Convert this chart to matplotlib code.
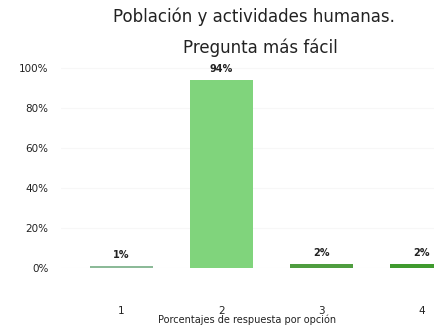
import matplotlib.pyplot as plt
import numpy as np

opciones = ["1", "2", "3", "4"]
porcentajes = [1, 94, 2, 2]
colores = ["#8cba98", "#80d47c", "#4f9d3f", "#3f9a2e"]
yticks = [0, 20, 40, 60, 80, 100]

fig = plt.figure(figsize=(4.34, 3.26), dpi=100)
fig.patch.set_facecolor("white")
ax = fig.add_axes([61 / 434, (326 - 268) / 326, (434 - 61) / 434, 210 / 326])

x = np.arange(len(opciones))
ax.bar(x, porcentajes, width=0.63, color=colores)

for xi, v in zip(x, porcentajes):
    ax.text(xi, v + 3, f"{v}%", ha="center", va="bottom", fontsize=7,
            fontweight="bold", color="#222222")

ax.set_xlim(-0.6, 3.12)
ax.set_ylim(0, 105)
ax.set_yticks(yticks)
ax.set_yticklabels([f"{t}%" for t in yticks])
ax.set_xticks(x)
ax.set_xticklabels(opciones)
ax.tick_params(axis="both", length=0, labelsize=7.5, colors="#222222")
ax.tick_params(axis="y", pad=9)
ax.tick_params(axis="x", pad=27)
ax.yaxis.grid(True, color="#f7f7f7", linewidth=0.8)
ax.set_axisbelow(True)
for s in ax.spines.values():
    s.set_visible(False)

ax.set_xlabel("Porcentajes de respuesta por opción", fontsize=7, color="#222222", labelpad=-1)

fig.text(0.585, 0.948, "Población y actividades humanas.", ha="center", va="center",
         fontsize=12, color="#222222")
fig.text(0.6, 0.855, "Pregunta más fácil", ha="center", va="center",
         fontsize=12, color="#222222")

fig.savefig("out.png", dpi=100)
